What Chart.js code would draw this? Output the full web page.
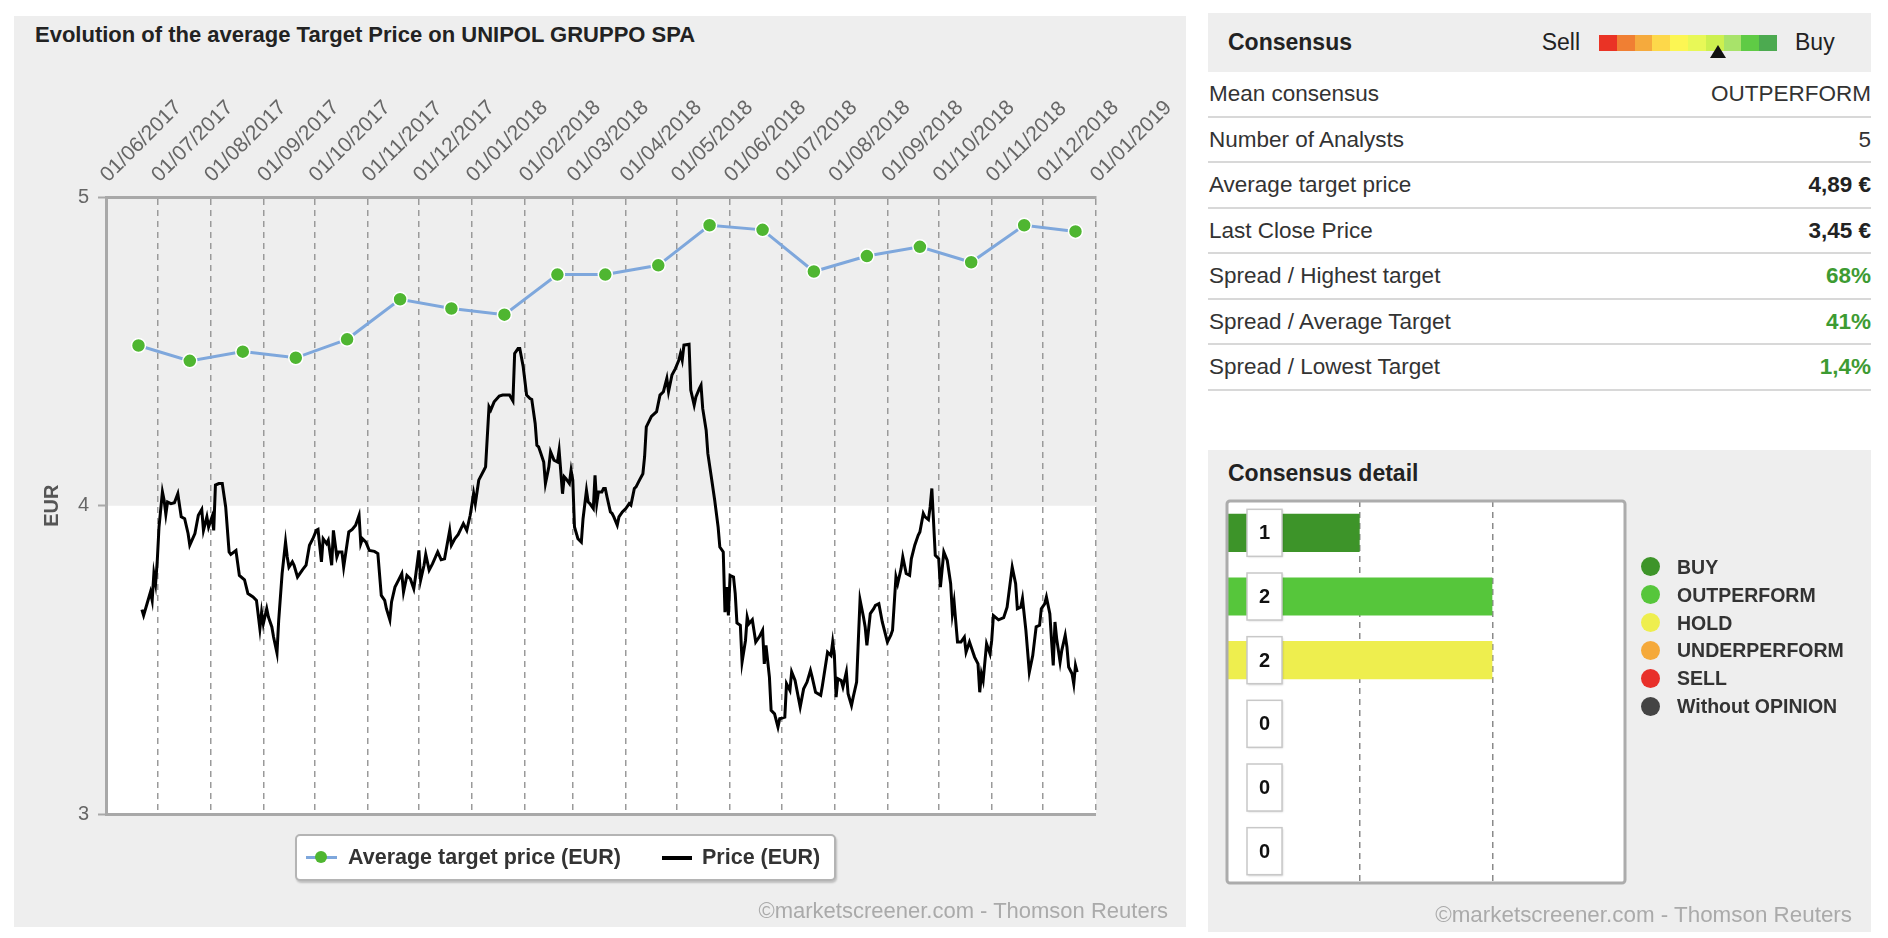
<!DOCTYPE html>
<html>
<head>
<meta charset="utf-8">
<script src="https://cdn.jsdelivr.net/npm/chart.js@4.4.1/dist/chart.umd.min.js"></script>
<style>
  body { margin: 0; width: 1888px; height: 938px; position: relative; overflow: hidden; background: #fff;
         font-family: "Liberation Sans", Arial, sans-serif; color: #333; }
  .abs { position: absolute; }
  .panel { background: #eeeeee; }
  #title { left: 35px; top: 22px; font-size: 22px; font-weight: bold; color: #222; line-height: 26px; white-space: nowrap; }
  .mark { color: #aaa; font-size: 22px; line-height: 24px; white-space: nowrap; }
  #legendBox { left: 295px; top: 834px; width: 537px; height: 43px; background: #fff; border: 2px solid #b4b4b4;
               border-radius: 5px; box-shadow: 1px 2px 2px rgba(0,0,0,0.2); font-size: 21.5px; font-weight: bold; color: #333; }
  #legendBox span { position: absolute; top: 0; line-height: 43px; white-space: nowrap; }
  #consHead { left: 1208px; top: 13px; width: 663px; height: 59px; }
  #consHead .t { left: 20px; top: 0; line-height: 59px; font-size: 23px; font-weight: bold; color: #222; }
  #consHead .s { top: 0; line-height: 59px; font-size: 23px; color: #222; }
  #scale { left: 391px; top: 22px; width: 178px; height: 16px; display: flex; }
  #scale div { flex: 1; }
  #arrow { left: 502px; top: 32px; width: 0; height: 0; border-left: 8px solid transparent; border-right: 8px solid transparent; border-bottom: 13px solid #111; }
  #rows { left: 1208px; top: 72px; width: 663px; }
  .row { height: 43.5px; line-height: 43.5px; border-bottom: 2px solid #d8d8d8; font-size: 22.5px; display: flex; justify-content: space-between; padding-left: 1px; }
  .row b { color: #222; }
  .up { color: #3d9b32; font-weight: bold; }
  #detailPanel { left: 1208px; top: 450px; width: 663px; height: 482px; }
  #detailTitle { left: 20px; top: 8px; line-height: 30px; font-size: 23px; font-weight: bold; color: #222; }
  .lg { position: absolute; font-size: 19.5px; font-weight: bold; color: #333; line-height: 24px; white-space: nowrap; }
  .dot { position: absolute; width: 19px; height: 19px; border-radius: 50%; }
</style>
</head>
<body>
<div class="abs panel" style="left:14px;top:16px;width:1172px;height:911px"></div>
<div id="title" class="abs">Evolution of the average Target Price on UNIPOL GRUPPO SPA</div>
<canvas id="priceChart" class="abs" style="left:0;top:0" width="1190" height="938"></canvas>
<div id="legendBox" class="abs">
  <span style="left:9px;top:20px;width:31px;height:3px;background:#7ea7dc"></span>
  <span style="left:18px;top:15px;width:12px;height:12px;border-radius:50%;background:#4fb631"></span>
  <span style="left:51px">Average target price (EUR)</span>
  <span style="left:365px;top:20px;width:30px;height:4px;background:#000"></span>
  <span style="left:405px">Price (EUR)</span>
</div>
<div class="abs mark" style="right:720px;top:899px">©marketscreener.com - Thomson Reuters</div>

<div id="consHead" class="abs panel">
  <div class="abs t">Consensus</div>
  <div class="abs s" style="right:291px">Sell</div>
  <div id="scale" class="abs"></div>
  <div id="arrow" class="abs"></div>
  <div class="abs s" style="left:587px">Buy</div>
</div>
<div id="rows" class="abs">
  <div class="row"><span>Mean consensus</span><span>OUTPERFORM</span></div>
  <div class="row"><span>Number of Analysts</span><span>5</span></div>
  <div class="row"><span>Average target price</span><b>4,89 €</b></div>
  <div class="row"><span>Last Close Price</span><b>3,45 €</b></div>
  <div class="row"><span>Spread / Highest target</span><span class="up">68%</span></div>
  <div class="row"><span>Spread / Average Target</span><span class="up">41%</span></div>
  <div class="row"><span>Spread / Lowest Target</span><span class="up">1,4%</span></div>
</div>

<div id="detailPanel" class="abs panel">
  <div id="detailTitle" class="abs">Consensus detail</div>
</div>
<canvas id="detailChart" class="abs" style="left:1208px;top:450px" width="663" height="482"></canvas>
<div id="detailLegend"></div>
<div class="abs mark" style="right:36px;top:903px;font-size:22.4px">©marketscreener.com - Thomson Reuters</div>

<script>
// x axis: first day of each month
const tickLabels = ['01/06/2017', '01/07/2017', '01/08/2017', '01/09/2017', '01/10/2017', '01/11/2017', '01/12/2017',
  '01/01/2018', '01/02/2018', '01/03/2018', '01/04/2018', '01/05/2018', '01/06/2018', '01/07/2018', '01/08/2018',
  '01/09/2018', '01/10/2018', '01/11/2018', '01/12/2018', '01/01/2019']

// average target price, one value per month
const targetDates = ['20/06/2017', '20/07/2017', '20/08/2017', '20/09/2017', '20/10/2017', '20/11/2017', '20/12/2017',
  '20/01/2018', '20/02/2018', '20/03/2018', '20/04/2018', '20/05/2018', '20/06/2018', '20/07/2018', '20/08/2018',
  '20/09/2018', '20/10/2018', '20/11/2018', '20/12/2018']
const targetValues = [4.52, 4.47, 4.50, 4.48, 4.54, 4.67, 4.64, 4.62, 4.75, 4.75, 4.78, 4.91, 4.895, 4.76, 4.81, 4.84, 4.79, 4.91, 4.89]

// closing price, days counted from 01/06/2017
const priceDays = [21, 22, 24, 26, 27, 28, 29, 30, 31, 33, 34, 35, 36, 38, 40, 42, 44, 46, 48, 49, 52, 54, 56, 57, 59, 60, 62, 63, 64, 66,
  68, 70, 72, 73, 76, 78, 81, 83, 86, 88, 90, 91, 92, 94, 95, 97, 98, 100, 101, 103, 105, 106, 107, 109, 110, 112, 115, 117, 119,
  121, 123, 124, 126, 127, 129, 130, 132, 133, 135, 136, 138, 139, 142, 144, 146, 148, 149, 150, 152, 154, 157, 159, 161, 163, 164,
  166, 167, 169, 171, 173, 174, 176, 178, 180, 181, 183, 184, 186, 187, 189, 191, 194, 196, 198, 201, 202, 204, 206, 209, 211, 213,
  215, 216, 218, 221, 222, 224, 225, 227, 230, 232, 236, 238, 239, 241, 242,
  244, 246, 248, 249, 251, 252, 253, 254, 256, 257, 259, 260, 262, 264, 265, 267, 268, 269, 271, 272, 273, 274, 276, 278, 279, 281,
  282, 283, 285, 286, 287, 288, 290, 291, 292, 293, 295, 296, 297, 299, 300, 302, 304, 306, 307, 309, 310, 312, 314, 315, 316, 317,
  319, 322, 324, 326, 328, 329, 331, 333, 335, 336, 337, 338, 341, 342, 344, 345, 347, 348, 349, 351, 352, 354, 356, 358, 359, 361,
  362, 363, 364, 365,
  367, 368, 369, 371, 372, 374, 375, 376, 378, 380, 382, 384, 385, 386, 388, 389, 391, 393, 394, 397, 398, 400, 401, 403, 406, 408,
  410, 412, 413, 415, 418, 419, 422, 424, 425, 426, 427, 428, 430, 431, 433, 434, 436, 437, 439, 440, 441, 443, 444, 445, 447, 449,
  450, 452, 454, 457, 459, 460, 462, 463, 465, 466, 468, 470, 471, 473, 475, 476, 478, 479, 481, 482, 483, 485, 487, 488,
  490, 492, 494, 495, 496, 498, 500, 502, 503, 505, 506, 508, 510, 511, 512, 513, 515, 517, 518, 519, 522, 525, 527, 529, 530, 532,
  533, 535, 536, 538, 540, 542, 544, 546, 547, 549, 550, 552, 553, 554, 555, 556, 558, 559, 561, 562, 563, 565, 566, 567, 568]
const priceValues = [3.663, 3.644, 3.682, 3.720, 3.693, 3.780, 3.747, 3.823, 3.931, 4.045, 4.018, 3.972, 4.012, 4.007, 4.010, 4.039,
  3.964, 3.958, 3.910, 3.872, 3.910, 3.969, 3.988, 3.920, 3.964, 3.931, 3.964, 3.920, 4.067, 4.072, 4.072, 3.996, 3.850, 3.842,
  3.855, 3.774, 3.760, 3.715, 3.704, 3.693, 3.601, 3.655, 3.617, 3.666, 3.639, 3.607, 3.574, 3.522, 3.628, 3.780, 3.883, 3.834,
  3.801, 3.818, 3.807, 3.769, 3.793, 3.807, 3.872,
  3.893, 3.920, 3.923, 3.818, 3.893, 3.877, 3.888, 3.807, 3.920, 3.834, 3.850, 3.850, 3.801, 3.915, 3.923, 3.937, 3.969, 3.877,
  3.893, 3.882, 3.855, 3.852, 3.845, 3.709, 3.693, 3.666, 3.630, 3.688, 3.736, 3.758, 3.780, 3.720, 3.774, 3.763, 3.731, 3.769,
  3.855, 3.758, 3.807, 3.842, 3.791, 3.812, 3.850, 3.825, 3.828, 3.920, 3.872, 3.893, 3.907, 3.942, 3.920, 3.969, 4.040, 4.007,
  4.083, 4.115, 4.126, 4.321, 4.310, 4.337, 4.356, 4.359, 4.359, 4.340, 4.494, 4.510, 4.510,
  4.451, 4.359, 4.348, 4.345, 4.267, 4.196, 4.191, 4.175, 4.142, 4.072, 4.126, 4.175, 4.148, 4.142, 4.180, 4.039, 4.094, 4.088,
  4.072, 4.115, 4.083, 3.931, 3.893, 3.882, 3.958, 4.050, 4.012, 4.007, 3.991, 4.099, 4.007, 4.045, 4.045, 4.056, 4.056, 4.029,
  3.980, 3.975, 3.964, 3.937, 3.964, 3.980, 3.991, 4.007, 4.002, 4.056, 4.061, 4.083, 4.104, 4.159, 4.256, 4.267, 4.290, 4.305,
  4.359, 4.370, 4.413, 4.370, 4.424, 4.445, 4.472, 4.494, 4.472, 4.521, 4.524, 4.375, 4.326, 4.353, 4.380, 4.391, 4.315, 4.245,
  4.169, 4.094, 4.018, 3.931, 3.866, 3.850, 3.655, 3.736, 3.644, 3.774,
  3.769, 3.715, 3.620, 3.612, 3.493, 3.563, 3.639, 3.617, 3.630, 3.558, 3.574, 3.596, 3.487, 3.547, 3.444, 3.336, 3.325, 3.282,
  3.309, 3.314, 3.423, 3.401, 3.461, 3.433, 3.347, 3.406, 3.428, 3.466, 3.444, 3.395, 3.385, 3.417, 3.525, 3.514, 3.558, 3.514,
  3.379, 3.439, 3.433, 3.412, 3.461, 3.390, 3.352, 3.379, 3.428, 3.563, 3.695, 3.639, 3.607, 3.547, 3.650, 3.666, 3.677, 3.682,
  3.623, 3.558, 3.580, 3.596, 3.769, 3.747, 3.796, 3.834, 3.780, 3.774, 3.828, 3.872, 3.904, 3.915, 3.975, 3.964, 3.955, 3.996,
  4.056, 3.839, 3.828, 3.736,
  3.850, 3.823, 3.747, 3.650, 3.688, 3.558, 3.558, 3.574, 3.525, 3.558, 3.542, 3.509, 3.487, 3.395, 3.455, 3.433, 3.552, 3.520,
  3.563, 3.644, 3.630, 3.637, 3.671, 3.758, 3.801, 3.747, 3.666, 3.671, 3.699, 3.596, 3.460, 3.514, 3.607, 3.612, 3.666, 3.682,
  3.704, 3.650, 3.563, 3.482, 3.623, 3.569, 3.493, 3.531, 3.580, 3.542, 3.477, 3.455, 3.422, 3.482, 3.460]

// consensus detail
const detailCategories = ['BUY', 'OUTPERFORM', 'HOLD', 'UNDERPERFORM', 'SELL', 'Without OPINION']
const detailCounts = [1, 2, 2, 0, 0, 0]
const detailColors = ['#3d9429', '#56c63b', '#eeee4e', '#f5a93a', '#e8302a', '#444444']

// sell -> buy gauge
const scaleColors = ['#ea3325', '#f07f33', '#f5aa3d', '#fdd84a', '#fcf653', '#e8f857', '#cdf04f', '#a8e36a', '#5fcb45', '#4caa50']

Chart.defaults.font.family = '"Liberation Sans", Arial, sans-serif'

const dayOf = (s) => {
  const [d, m, y] = s.split('/').map(Number)
  return (Date.UTC(y, m - 1, d) - Date.UTC(2017, 5, 1)) / 864e5
}
const tickDays = tickLabels.map(dayOf)

// white band between 3 and 4
const lowerBand = {
  id: 'lowerBand',
  beforeDraw(chart) {
    const { ctx, chartArea, scales } = chart
    const top = scales.y.getPixelForValue(4)
    const bottom = scales.y.getPixelForValue(3)
    ctx.save()
    ctx.fillStyle = '#ffffff'
    ctx.fillRect(chartArea.left, top, chartArea.right - chartArea.left, bottom - top)
    ctx.restore()
  },
}

new Chart(document.getElementById('priceChart'), {
  type: 'line',
  data: {
    datasets: [
      {
        label: 'Average target price (EUR)',
        data: targetDates.map((d, i) => ({ x: dayOf(d), y: targetValues[i] })),
        borderColor: '#7ea7dc',
        borderWidth: 3,
        pointRadius: 7,
        pointBackgroundColor: '#4fb631',
        pointBorderColor: '#ffffff',
        pointBorderWidth: 1.5,
        tension: 0,
      },
      {
        label: 'Price (EUR)',
        data: priceDays.map((d, i) => ({ x: d, y: priceValues[i] })),
        borderColor: '#000000',
        borderWidth: 3,
        pointRadius: 0,
        tension: 0,
      },
    ],
  },
  options: {
    responsive: false,
    animation: false,
    layout: { padding: { right: 94, bottom: 124 } },
    plugins: { legend: { display: false }, tooltip: { enabled: false } },
    scales: {
      x: {
        type: 'linear',
        position: 'top',
        min: 0,
        max: tickDays[tickDays.length - 1],
        afterBuildTicks: (axis) => { axis.ticks = tickDays.map((v) => ({ value: v })) },
        afterFit: (axis) => { axis.height = 197.5 },
        ticks: {
          autoSkip: false,
          minRotation: 45,
          maxRotation: 45,
          padding: 10,
          labelOffset: 16,
          color: '#666',
          font: { size: 21 },
          callback: (v, i) => tickLabels[i],
        },
        grid: { color: '#9a9a9a', lineWidth: 1.5, drawTicks: false },
        border: { color: '#a8a8a8', width: 3, dash: [6, 5] },
      },
      y: {
        min: 3,
        max: 5,
        afterFit: (axis) => { axis.width = 106 },
        ticks: { stepSize: 1, padding: 9, color: '#666', font: { size: 20 } },
        grid: {
          color: (c) => (c.tick && c.tick.value === 4 ? 'rgba(0,0,0,0)' : '#a8a8a8'),
          lineWidth: 3,
          tickLength: 8,
          tickColor: '#a8a8a8',
          tickWidth: 2,
        },
        border: { color: '#a8a8a8', width: 3 },
        title: { display: true, text: 'EUR', color: '#555', font: { size: 20, weight: 'bold' }, padding: { top: 40 } },
      },
    },
  },
  plugins: [lowerBand],
})

// white plot, framed
const plotFrame = {
  id: 'plotFrame',
  beforeDraw(chart) {
    const { ctx, chartArea: a } = chart
    ctx.save()
    ctx.fillStyle = '#ffffff'
    ctx.fillRect(a.left, a.top, a.width, a.height)
    ctx.restore()
  },
  afterDraw(chart) {
    const { ctx, chartArea: a } = chart
    ctx.save()
    ctx.strokeStyle = '#acacac'
    ctx.lineWidth = 3
    ctx.beginPath()
    ctx.roundRect(a.left, a.top, a.width, a.height, 3)
    ctx.stroke()
    ctx.restore()
  },
}

// boxed count on every bar
const countBoxes = {
  id: 'countBoxes',
  afterDatasetsDraw(chart) {
    const { ctx, chartArea: a } = chart
    chart.getDatasetMeta(0).data.forEach((bar, i) => {
      const w = 35
      const h = 47
      const x = a.left + 20
      const y = bar.y - h / 2
      ctx.save()
      ctx.shadowColor = 'rgba(0,0,0,0.18)'
      ctx.shadowBlur = 2
      ctx.shadowOffsetX = 1
      ctx.shadowOffsetY = 1
      ctx.fillStyle = '#ffffff'
      ctx.fillRect(x, y, w, h)
      ctx.shadowColor = 'rgba(0,0,0,0)'
      ctx.strokeStyle = '#c8c8c8'
      ctx.lineWidth = 1.5
      ctx.strokeRect(x, y, w, h)
      ctx.fillStyle = '#111'
      ctx.font = 'bold 20px "Liberation Sans", Arial, sans-serif'
      ctx.textAlign = 'center'
      ctx.textBaseline = 'middle'
      ctx.fillText(String(detailCounts[i]), x + w / 2, bar.y + 1)
      ctx.restore()
    })
  },
}

new Chart(document.getElementById('detailChart'), {
  type: 'bar',
  data: {
    labels: detailCategories,
    datasets: [{ data: detailCounts, backgroundColor: detailColors, barPercentage: 0.6, categoryPercentage: 1 }],
  },
  options: {
    indexAxis: 'y',
    responsive: false,
    animation: false,
    layout: { padding: { left: 19, top: 51, right: 246, bottom: 49 } },
    plugins: { legend: { display: false }, tooltip: { enabled: false } },
    scales: {
      x: {
        min: 0,
        max: 3,
        afterFit: (axis) => { axis.height = 0 },
        ticks: { display: false, stepSize: 1 },
        grid: {
          color: (c) => (c.tick && (c.tick.value === 1 || c.tick.value === 2) ? '#8a8a8a' : 'rgba(0,0,0,0)'),
          lineWidth: 1.5,
          drawTicks: false,
        },
        border: { display: false, dash: [6, 5] },
      },
      y: { display: false },
    },
  },
  plugins: [plotFrame, countBoxes],
})

// gauge and legend
const scaleEl = document.getElementById('scale')
scaleColors.forEach((c) => {
  const seg = document.createElement('div')
  seg.style.background = c
  scaleEl.appendChild(seg)
})

const legendEl = document.getElementById('detailLegend')
detailCategories.forEach((name, i) => {
  const cy = 566.7 + i * 27.9
  const dot = document.createElement('div')
  dot.className = 'dot'
  dot.style.cssText = `left:1641px;top:${cy - 9.5}px;background:${detailColors[i]}`
  const txt = document.createElement('div')
  txt.className = 'lg'
  txt.style.cssText = `left:1677px;top:${cy - 12}px`
  txt.textContent = name
  legendEl.appendChild(dot)
  legendEl.appendChild(txt)
})
</script>
</body>
</html>
